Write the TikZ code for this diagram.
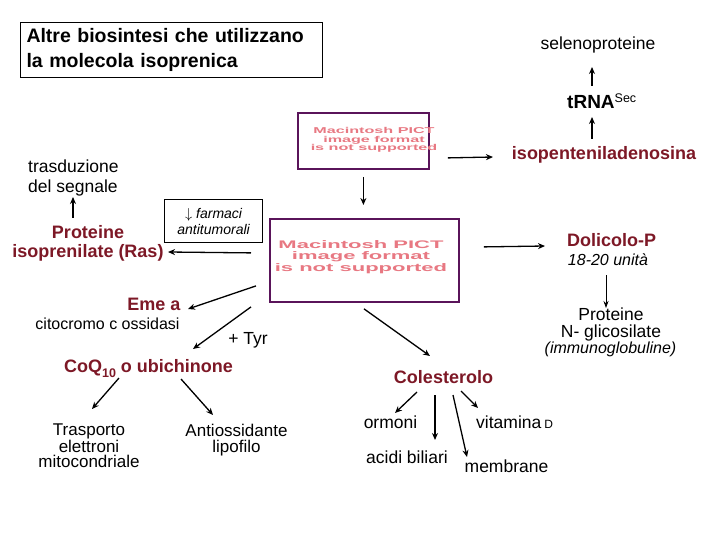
\documentclass[tikz,border=0pt]{standalone}
\usepackage{fontspec}
\setmainfont{Liberation Sans}
\usetikzlibrary{arrows.meta,calc}
\definecolor{dred}{RGB}{125,24,38}
\definecolor{pictborder}{RGB}{90,20,90}
\definecolor{pictpink}{RGB}{232,120,130}
\begin{document}
\begin{tikzpicture}[x=1pt,y=-1pt,
  every node/.style={inner sep=0pt, align=center},
  bt/.style={font=\fontsize{18}{19}\selectfont\bfseries, text=dred},
  nt/.style={font=\fontsize{17.5}{20}\selectfont},
  it/.style={font=\fontsize{16}{18}\selectfont\itshape},
  arr/.style={-{Stealth[length=7pt,width=6pt]}, line width=1.3pt},
  tarr/.style={-{Stealth[length=7pt,width=5pt]}, line width=0.8pt},
  pict/.style={draw=pictborder, line width=1.8pt, fill=white},
  picttext/.style={text=pictpink}]

\useasboundingbox (0,0) rectangle (720,540);

% title
\node[draw, line width=1pt, anchor=north west, text width=290pt, inner xsep=6pt,
      minimum height=55pt, align=left, font=\fontsize{19.5}{25}\selectfont\bfseries]
      (title) at (20,22) {Altre biosintesi che utilizzano\\la molecola isoprenica};

% PICT placeholders
\node[pict, minimum width=131pt, minimum height=56pt, anchor=north west] (p1) at (297,112) {};
\node[picttext, font=\fontsize{8.5}{8.5}\selectfont\bfseries, xscale=1.9] (p1t) at (374,140)
      {Macintosh PICT\\image format\\is not supported};
\node[pict, minimum width=189pt, minimum height=83pt, anchor=north west] (p2) at (269,218) {};
\node[picttext, font=\fontsize{11}{11.5}\selectfont\bfseries, xscale=2] (p2t) at (361,257)
      {Macintosh PICT\\image format\\is not supported};

% right top branch
\node[nt, anchor=base] (sel) at (598,50) {selenoproteine};
\node[font=\fontsize{19}{20}\selectfont\bfseries, anchor=base west] (trna) at (567,109)
      {tRNA\raisebox{6pt}{\fontsize{12.5}{13}\selectfont\mdseries Sec}};
\node[bt, anchor=base] (iso) at (604,160) {isopenteniladenosina};

% left branch (base anchor of a multi-line node = last line)
\node[nt, anchor=base west, align=left] (tras) at (28,193) {trasduzione\\del segnale};
\node[bt, anchor=base] (prot) at (88,257) {Proteine\\isoprenilate (Ras)};
\node[draw, line width=1.2pt, minimum width=98pt, minimum height=43pt, anchor=north west,
      font=\fontsize{14}{16}\selectfont\itshape] (farm) at (164,199)
      {$\downarrow$ farmaci\\antitumorali};
\node[bt, anchor=base] (eme) at (154,310) {Eme a};
\node[font=\fontsize{16}{18}\selectfont, anchor=base] (cito) at (107.5,329) {citocromo c ossidasi};
\node[nt, anchor=base] (tyr) at (248,344) {+ Tyr};
\node[bt, anchor=base] (coq) at (148.5,372)
      {CoQ\raisebox{-5pt}{\fontsize{12.5}{13}\selectfont 10} o ubichinone};
\node[font=\fontsize{17}{15}\selectfont, anchor=base] (trasp) at (89,467)
      {Trasporto\\elettroni\\mitocondriale};
\node[font=\fontsize{17}{15.5}\selectfont, anchor=base] (anti) at (236.5,452)
      {Antiossidante\\lipofilo};

% right branch
\node[bt, anchor=base] (dol) at (611.7,246) {Dolicolo-P};
\node[it, anchor=base] (unit) at (608,265) {18-20 unità};
\node[font=\fontsize{17.5}{17}\selectfont, anchor=base] (protn) at (611,337) {Proteine\\N- glicosilate};
\node[it, anchor=base] (immu) at (610.5,353) {(immunoglobuline)};

% cholesterol branch
\node[bt, anchor=base] (col) at (443.5,383) {Colesterolo};
\node[nt, anchor=base] (orm) at (390.5,428) {ormoni};
\node[nt, anchor=base] (acid) at (407,463) {acidi biliari};
\node[nt, anchor=base] (mem) at (506.5,472) {membrane};
\node[nt, anchor=base west] (vit) at (476,428) {vitamina\,{\fontsize{12}{12}\selectfont D}};

% connectors
\draw[arr] ($(p1.east)+(18,17)$) -- ($(iso.base)+(-111,-3)$);
\draw[arr] ($(iso.base)+(-12,-21)$) -- ($(trna.base west)+(25,8)$);
\draw[arr] ($(trna.base west)+(25,-23)$) -- ($(sel.base)+(-6,17)$);
\draw[arr] ($(p1.south)+(0,7)$) -- ($(p2.north)+(-1,-13)$);
\draw[arr] ($(p2.west)+(-18,-7.5)$) -- ($(prot.base)+(80,-5)$);
\draw[arr] ($(prot.base)+(-15,-39)$) -- ($(tras.base west)+(45,4)$);
\draw[arr] ($(p2.west)+(-13,25.5)$) -- ($(eme.base)+(34,-1)$);
\draw[arr] ($(p2.west)+(-18,46.5)$) -- ($(coq.base)+(44.5,-23)$);
\draw[arr] ($(p2.east)+(24,-13.5)$) -- ($(dol.base)+(-66.7,0)$);
\draw[tarr] ($(dol.base)+(-5.7,29)$) -- ($(protn.base)+(-5,-29)$);
\draw[arr] ($(p2.south)+(-0.5,6)$) -- ($(col.base)+(-13.5,-27)$);
\draw[arr] ($(coq.base)+(-29.5,6)$) -- ($(trasp.base)+(3,-58)$);
\draw[arr] ($(coq.base)+(32.5,7)$) -- ($(anti.base)+(-23.5,-37)$);
\draw[arr] ($(col.base)+(-26.5,9)$) -- ($(orm.base)+(4.5,-15)$);
\draw[arr] ($(col.base)+(-8.5,12)$) -- ($(acid.base)+(28,-23)$);
\draw[arr] ($(col.base)+(9.5,12)$) -- ($(mem.base)+(-39.5,-15)$);
\draw[arr] ($(col.base)+(17.5,8)$) -- ($(vit.base west)+(2,-20)$);
\end{tikzpicture}
\end{document}
